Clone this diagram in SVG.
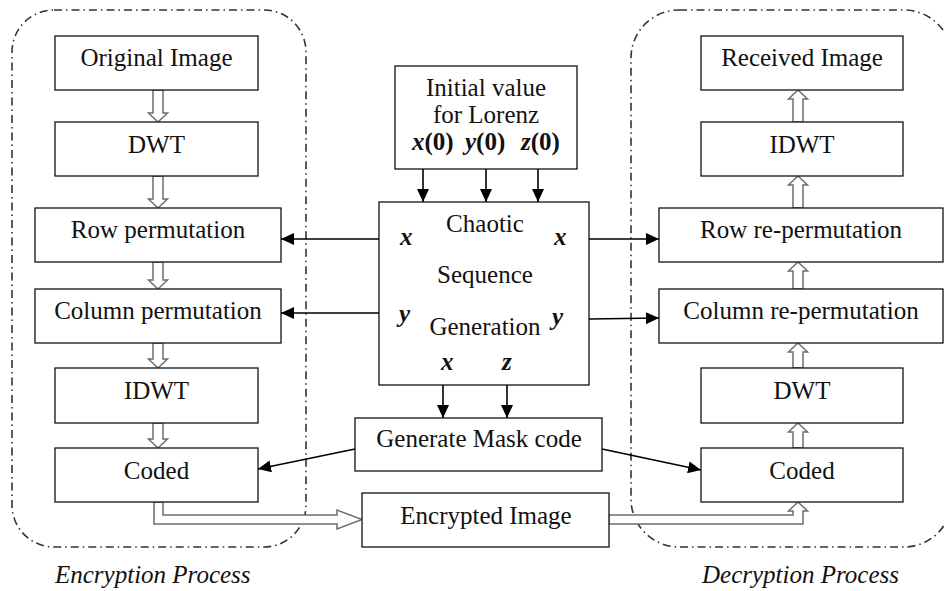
<svg xmlns="http://www.w3.org/2000/svg" width="944" height="591" viewBox="0 0 944 591">
<defs>
<marker id="ah" markerUnits="userSpaceOnUse" markerWidth="14" markerHeight="12" refX="13" refY="6" orient="auto">
<path d="M0,0 L13,6 L0,12 z" fill="#000"/>
</marker>
<style>
.box{fill:#fff;stroke:#111;stroke-width:1.3}
.grp{fill:none;stroke:#333;stroke-width:1.6;stroke-dasharray:8 4 1.5 4}
text{font-family:'Liberation Serif','Times New Roman',serif;font-size:25px;fill:#111}
.t{text-anchor:middle}
.it{font-style:italic}
.v{font-style:italic;font-weight:bold}
.b{font-weight:bold}
.ln{stroke:#000;stroke-width:1.6;fill:none}
.hol{fill:#fff;stroke:#6e6e6e;stroke-width:1.5;stroke-linejoin:miter}
</style>
</defs>
<rect width="944" height="591" fill="#fff"/>
<g id="encryption-group">
<rect class="grp" x="12" y="10" width="294" height="537" rx="42" ry="42"/>
<text class="it" x="55" y="583">Encryption Process</text>
</g>
<g id="decryption-group">
<rect class="grp" x="631" y="10" width="321" height="537" rx="48" ry="48"/>
<text class="it" x="702" y="583">Decryption Process</text>
</g>

<g id="connectors">
<polygon class="hol" points="153,90 153,113 148.5,113 158,122 167.5,113 163,113 163,90"/>
<polygon class="hol" points="153,176 153,199 148.5,199 158,208 167.5,199 163,199 163,176"/>
<polygon class="hol" points="153,262 153,280 148.5,280 158,289 167.5,280 163,280 163,262"/>
<polygon class="hol" points="153,343 153,359 148.5,359 158,368 167.5,359 163,359 163,343"/>
<polygon class="hol" points="153,423 153,439 148.5,439 158,448 167.5,439 163,439 163,423"/>
<polygon class="hol" points="793,448 793,432 788.5,432 798,423 807.5,432 803,432 803,448"/>
<polygon class="hol" points="793,368 793,352 788.5,352 798,343 807.5,352 803,352 803,368"/>
<polygon class="hol" points="793,289 793,271 788.5,271 798,262 807.5,271 803,271 803,289"/>
<polygon class="hol" points="793,208 793,185 788.5,185 798,176 807.5,185 803,185 803,208"/>
<polygon class="hol" points="793,122 793,99 788.5,99 798,90 807.5,99 803,99 803,122"/>
<polygon class="hol" points="154,502 154,524 337,524 337,529 362,519.5 337,510 337,515 163,515 163,502"/>
<polygon class="hol" points="609,515 793,515 793,511 788.5,511 798,502 807.5,511 803,511 803,524 609,524"/>
<line class="ln" x1="423" y1="169" x2="423" y2="202" marker-end="url(#ah)"/>
<line class="ln" x1="486" y1="169" x2="486" y2="202" marker-end="url(#ah)"/>
<line class="ln" x1="538" y1="169" x2="538" y2="202" marker-end="url(#ah)"/>
<line class="ln" x1="443" y1="385" x2="443" y2="418" marker-end="url(#ah)"/>
<line class="ln" x1="507" y1="385" x2="507" y2="418" marker-end="url(#ah)"/>
<line class="ln" x1="379" y1="239" x2="281" y2="239" marker-end="url(#ah)"/>
<line class="ln" x1="379" y1="313" x2="281" y2="313" marker-end="url(#ah)"/>
<line class="ln" x1="589" y1="239" x2="659" y2="239" marker-end="url(#ah)"/>
<line class="ln" x1="589" y1="319" x2="659" y2="318" marker-end="url(#ah)"/>
<line class="ln" x1="355" y1="449" x2="258" y2="469" marker-end="url(#ah)"/>
<line class="ln" x1="602" y1="449" x2="701" y2="470" marker-end="url(#ah)"/>
</g>

<g id="original-image"><rect class="box" x="55" y="36" width="203" height="54"/><text class="t" x="156.5" y="66">Original Image</text></g>
<g id="dwt-enc"><rect class="box" x="55" y="122" width="203" height="54"/><text class="t" x="156.5" y="153">DWT</text></g>
<g id="row-permutation"><rect class="box" x="35" y="208" width="246" height="54"/><text class="t" x="158" y="238">Row permutation</text></g>
<g id="column-permutation"><rect class="box" x="35" y="289" width="246" height="54"/><text class="t" x="158" y="319">Column permutation</text></g>
<g id="idwt-enc"><rect class="box" x="55" y="368" width="203" height="55"/><text class="t" x="156.5" y="399">IDWT</text></g>
<g id="coded-enc"><rect class="box" x="55" y="448" width="203" height="54"/><text class="t" x="156.5" y="479">Coded</text></g>

<g id="initial-value"><rect class="box" x="395" y="66" width="182" height="103"/>
<text class="t" x="486" y="96">Initial value</text>
<text class="t" x="486" y="123">for Lorenz</text>
<text class="b" x="412" y="150"><tspan class="v">x</tspan>(0)</text>
<text class="b" x="465" y="150"><tspan class="v">y</tspan>(0)</text>
<text class="b" x="521" y="150"><tspan class="v">z</tspan>(0)</text>
</g>
<g id="chaotic"><rect class="box" x="379" y="202" width="210" height="183"/>
<text class="t" x="485" y="232">Chaotic</text>
<text class="t" x="485" y="283">Sequence</text>
<text class="t" x="485" y="335">Generation</text>
<text class="v" x="400" y="245">x</text>
<text class="v" x="554" y="245">x</text>
<text class="v" x="399" y="322">y</text>
<text class="v" x="552" y="325">y</text>
<text class="v" x="441" y="370">x</text>
<text class="v" x="502" y="370">z</text>
</g>
<g id="mask-code"><rect class="box" x="355" y="418" width="247" height="53"/><text class="t" x="479" y="447">Generate Mask code</text></g>
<g id="encrypted-image"><rect class="box" x="362" y="493" width="247" height="54"/><text class="t" x="486" y="524">Encrypted Image</text></g>

<g id="received-image"><rect class="box" x="701" y="36" width="202" height="54"/><text class="t" x="802" y="66">Received Image</text></g>
<g id="idwt-dec"><rect class="box" x="701" y="122" width="202" height="54"/><text class="t" x="802" y="153">IDWT</text></g>
<g id="row-repermutation"><rect class="box" x="659" y="208" width="284" height="54"/><text class="t" x="801" y="238">Row re-permutation</text></g>
<g id="column-repermutation"><rect class="box" x="659" y="289" width="284" height="54"/><text class="t" x="801" y="319">Column re-permutation</text></g>
<g id="dwt-dec"><rect class="box" x="701" y="368" width="202" height="55"/><text class="t" x="802" y="399">DWT</text></g>
<g id="coded-dec"><rect class="box" x="701" y="448" width="202" height="54"/><text class="t" x="802" y="479">Coded</text></g>
</svg>
